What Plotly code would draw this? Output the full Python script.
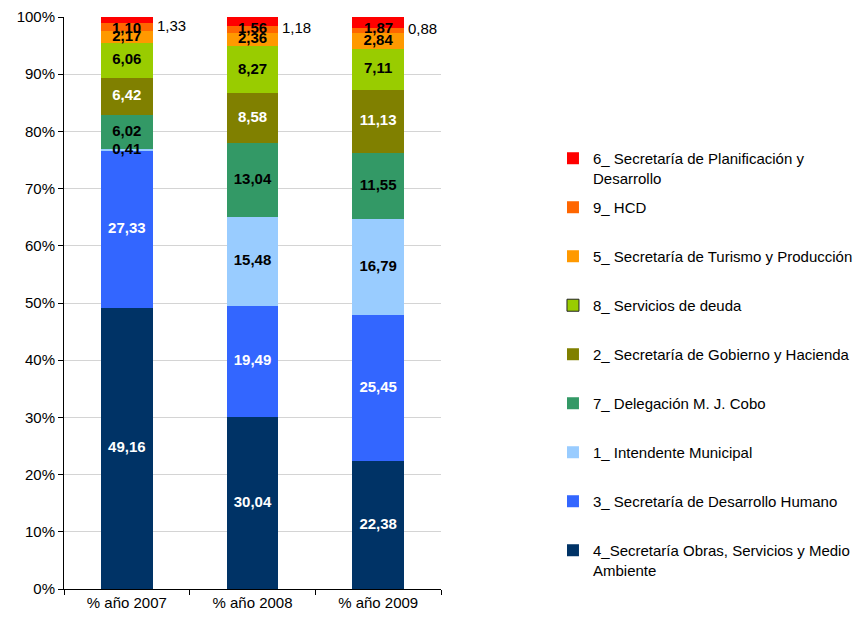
import plotly.graph_objects as go

categories = ["% año 2007", "% año 2008", "% año 2009"]

series_names = [
    "4_Secretaría Obras, Servicios y Medio<br>Ambiente",
    "3_ Secretaría de Desarrollo Humano",
    "1_ Intendente Municipal",
    "7_ Delegación M. J. Cobo",
    "2_ Secretaría de Gobierno y Hacienda",
    "8_ Servicios de deuda",
    "5_ Secretaría de Turismo y Producción",
    "9_ HCD",
    "6_ Secretaría de Planificación y<br>Desarrollo",
]

obras = [49.16, 30.04, 22.38]
desarrollo_humano = [27.33, 19.49, 25.45]
intendente = [0.41, 15.48, 16.79]
delegacion = [6.02, 13.04, 11.55]
gobierno = [6.42, 8.58, 11.13]
deuda = [6.06, 8.27, 7.11]
turismo = [2.17, 2.36, 2.84]
hcd = [1.33, 1.18, 0.88]
planificacion = [1.10, 1.56, 1.87]

series_values = [obras, desarrollo_humano, intendente, delegacion, gobierno,
                 deuda, turismo, hcd, planificacion]

colors = ["#003366", "#3366FF", "#99CCFF", "#339966", "#808000",
          "#99CC00", "#FF9900", "#FF6600", "#FF0000"]
label_colors = ["white", "white", "black", "black", "white",
                "black", "black", "black", "black"]

FONT = "Liberation Sans, Arial, sans-serif"
FS = 15
BAR_W = 0.413


def fmt(v):
    return f"{v:.2f}".replace(".", ",")


fig = go.Figure()
n = len(series_names)
for i, (name, vals, col) in enumerate(zip(series_names, series_values, colors)):
    legend_name = name if "<br>" in name else name + "<br> "
    bordered = name.startswith("8_")
    fig.add_trace(go.Bar(
        x=categories, y=vals, name=legend_name,
        marker=dict(color=col, line=dict(width=0)),
        width=BAR_W,
        legendgroup=f"g{i}", legendrank=1000 - i,
        showlegend=not bordered,
        textposition="none", hoverinfo="x+y+name",
    ))
    if bordered:
        # legend-only entry with a dark outline on the symbol
        fig.add_trace(go.Bar(
            x=categories, y=[None] * len(categories), name=legend_name,
            marker=dict(color=col, line=dict(width=1, color="#222222")),
            width=BAR_W, legendgroup=f"g{i}", legendrank=1000 - i,
            showlegend=True, hoverinfo="skip",
        ))

# value labels (drawn above all bars)
cum = [0.0] * len(categories)
for i, (name, vals, lc) in enumerate(zip(series_names, series_values, label_colors)):
    tops = [round(c + v, 6) for c, v in zip(cum, vals)]
    centers = [round(c + v / 2, 6) for c, v in zip(cum, vals)]
    if name == "9_ HCD":
        for j in range(len(categories)):
            fig.add_annotation(
                x=j + BAR_W / 2, y=centers[j], xref="x", yref="y",
                text=fmt(vals[j]), showarrow=False,
                xanchor="left", yanchor="middle", xshift=2, yshift=2,
                font=dict(family=FONT, size=FS, color="black"),
            )
    elif i == n - 1:
        # top segment: label kept inside the plot area, hanging from the top
        for j in range(len(categories)):
            fig.add_annotation(
                x=j, y=tops[j], xref="x", yref="y",
                text=fmt(vals[j]), showarrow=False,
                xanchor="center", yanchor="top",
                font=dict(family=FONT, size=FS, color=lc, weight="bold"),
            )
    else:
        fig.add_trace(go.Scatter(
            x=categories, y=centers,
            mode="text", text=[fmt(v) for v in vals],
            textposition="middle center",
            textfont=dict(family=FONT, size=FS, color=lc, weight="bold"),
            showlegend=False, hoverinfo="skip",
        ))
    cum = tops

fig.update_layout(
    barmode="stack",
    separators=",.",
    width=857, height=618,
    margin=dict(l=64, r=416, t=17, b=29, autoexpand=False),
    plot_bgcolor="white", paper_bgcolor="white",
    font=dict(family=FONT, size=FS, color="black"),
    showlegend=True,
    legend=dict(
        x=1.297, xanchor="left", y=0.7815, yanchor="top",
        traceorder="grouped", tracegroupgap=7,
        valign="top",
        font=dict(family=FONT, size=FS, color="black"),
        bgcolor="rgba(0,0,0,0)",
    ),
    xaxis=dict(
        type="category", showline=True, linecolor="black", linewidth=1,
        ticks="outside", ticklen=5, tickcolor="black", tickson="boundaries",
        showgrid=False, tickfont=dict(family=FONT, size=FS, color="black"),
    ),
    yaxis=dict(
        range=[0, 100], dtick=10, ticksuffix="%",
        showline=True, linecolor="black", linewidth=1,
        ticks="outside", ticklen=5, tickcolor="black",
        showgrid=True, gridcolor="#D4D4D4", gridwidth=1, zeroline=False,
        tickfont=dict(family=FONT, size=FS, color="black"),
    ),
)

fig.write_html(
    "out.html",
    config={"displayModeBar": False},
    post_script="document.body.style.margin='0';document.body.style.overflow='hidden';",
)
